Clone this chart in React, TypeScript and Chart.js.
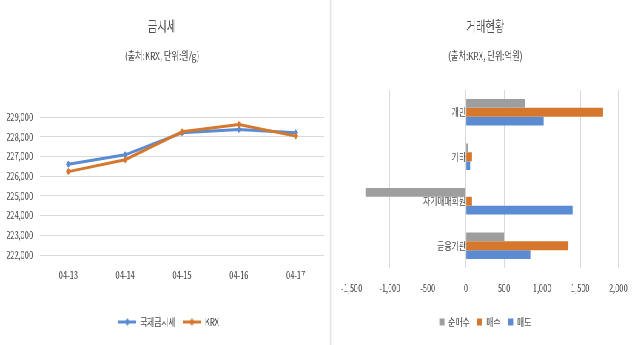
import React, { useEffect, useRef } from 'react';
import { Chart, registerables } from 'chart.js';

Chart.register(...registerables);

// ---- data: gold price (원/g) ----
const dates = ['04-13', '04-14', '04-15', '04-16', '04-17'];
const intlGold = [226600, 227080, 228200, 228370, 228200];
const krxGold = [226230, 226830, 228250, 228620, 228030];
const priceMin = 222000;
const priceMax = 229000;
const priceStep = 1000;

// ---- data: trading (억원) ----
const investors = ['개인', '기타', '자기매매회원', '금융기관'];
const netBuy = [780, 25, -1320, 500];
const buy = [1800, 80, 80, 1345];
const sell = [1020, 55, 1400, 845];
const tradeMin = -1500;
const tradeMax = 2000;
const tradeStep = 500;

const S = 0.74; // horizontal compression of the whole picture
const FONT = '"Noto Sans CJK KR", "Noto Sans", sans-serif';
const TXT = '#4F4F4F';
const BLUE = '#5B8CD3';
const ORANGE = '#D5782E';
const GRAY = '#9E9E9E';
const GRID = '#D9D9D9';
const fmt = (v: any) => Number(v).toLocaleString('en-US');

function lineIcon(color: string) {
  const c = document.createElement('canvas');
  c.width = 24;
  c.height = 9;
  const g = c.getContext('2d')!;
  g.strokeStyle = color;
  g.lineWidth = 3;
  g.beginPath();
  g.moveTo(0, 4.5);
  g.lineTo(24, 4.5);
  g.stroke();
  g.fillStyle = color;
  g.beginPath();
  g.moveTo(12, 0.5);
  g.lineTo(16, 4.5);
  g.lineTo(12, 8.5);
  g.lineTo(8, 4.5);
  g.closePath();
  g.fill();
  return c;
}

const shiftLegend = (dx: number) => ({
  id: 'shiftLegend',
  afterLayout(chart: any) {
    if (chart.legend) {
      chart.legend.left += dx;
      chart.legend.right += dx;
    }
  },
});

export default function App() {
  const leftRef = useRef<HTMLCanvasElement>(null);
  const rightRef = useRef<HTMLCanvasElement>(null);

  useEffect(() => {
    const titleFont = { family: FONT, size: 14, weight: 'normal' as const };
    const subFont = { family: FONT, size: 11, weight: 'normal' as const };
    const tickFont = { family: FONT, size: 10 };
    const legFont = { family: FONT, size: 10.5 };

    const iconBlue = lineIcon(BLUE);
    const iconOrange = lineIcon(ORANGE);

    const left = new Chart(leftRef.current!, {
      type: 'line',
      data: {
        labels: dates,
        datasets: [
          {
            label: '국제금시세',
            data: intlGold,
            borderColor: BLUE,
            backgroundColor: BLUE,
            borderWidth: 3,
            pointStyle: 'rectRot',
            pointRadius: 3.5,
            pointBorderWidth: 0,
            pointBackgroundColor: BLUE,
            tension: 0,
            order: 1,
          },
          {
            label: 'KRX',
            data: krxGold,
            borderColor: ORANGE,
            backgroundColor: ORANGE,
            borderWidth: 3,
            pointStyle: 'rectRot',
            pointRadius: 3.5,
            pointBorderWidth: 0,
            pointBackgroundColor: ORANGE,
            tension: 0,
            order: 0,
          },
        ],
      },
      plugins: [shiftLegend(9)],
      options: {
        responsive: false,
        animation: false,
        layout: { padding: { left: 0, right: 8, top: 0, bottom: 7.75 } },
        plugins: {
          title: {
            display: true,
            text: '금시세',
            color: TXT,
            font: titleFont,
            padding: { top: 17.6, bottom: 0 },
          },
          subtitle: {
            display: true,
            text: '(출처:KRX, 단위:원/g)',
            color: TXT,
            font: subFont,
            padding: { top: 15, bottom: 54.4 },
          },
          legend: {
            position: 'bottom',
            labels: {
              color: TXT,
              font: legFont,
              padding: 10,
              usePointStyle: true,
              pointStyleWidth: 24,
              generateLabels: () => [
                {
                  text: '국제금시세',
                  pointStyle: iconBlue as any,
                  fillStyle: BLUE,
                  strokeStyle: BLUE,
                  lineWidth: 0,
                  hidden: false,
                  datasetIndex: 0,
                  fontColor: TXT,
                },
                {
                  text: 'KRX',
                  pointStyle: iconOrange as any,
                  fillStyle: ORANGE,
                  strokeStyle: ORANGE,
                  lineWidth: 0,
                  hidden: false,
                  datasetIndex: 1,
                  fontColor: TXT,
                },
              ],
            },
          },
          tooltip: { enabled: false },
        },
        scales: {
          x: {
            offset: true,
            grid: { display: false, drawTicks: false },
            border: { display: false },
            ticks: { color: TXT, font: tickFont, padding: 14, maxRotation: 0 },
            afterFit: (s: any) => {
              s.height = 51.75;
            },
          },
          y: {
            min: priceMin,
            max: priceMax,
            grid: { color: GRID, drawTicks: false },
            border: { display: false },
            ticks: { stepSize: priceStep, callback: fmt, color: TXT, font: tickFont, padding: 9.5 },
            afterFit: (s: any) => {
              s.width = 54;
            },
          },
        },
      },
    });

    const right = new Chart(rightRef.current!, {
      type: 'bar',
      data: {
        labels: investors,
        datasets: [
          { label: '순매수', data: netBuy, backgroundColor: GRAY },
          { label: '매수', data: buy, backgroundColor: ORANGE },
          { label: '매도', data: sell, backgroundColor: BLUE },
        ],
      },
      options: {
        indexAxis: 'y',
        responsive: false,
        animation: false,
        layout: { padding: { left: 23, right: 20.4, top: 0, bottom: 7.75 } },
        datasets: { bar: { categoryPercentage: 0.6, barPercentage: 1 } },
        plugins: {
          title: {
            display: true,
            text: '거래현황',
            color: TXT,
            font: titleFont,
            padding: { top: 17.6, bottom: 0 },
          },
          subtitle: {
            display: true,
            text: '(출처:KRX, 단위:억원)',
            color: TXT,
            font: subFont,
            padding: { top: 15, bottom: 27.4 },
          },
          legend: {
            position: 'bottom',
            labels: { color: TXT, font: legFont, padding: 10, boxWidth: 7, boxHeight: 7 },
          },
          tooltip: { enabled: false },
        },
        scales: {
          x: {
            min: tradeMin,
            max: tradeMax,
            grid: { color: GRID, drawTicks: false },
            border: { display: false },
            ticks: { stepSize: tradeStep, callback: fmt, color: TXT, font: tickFont, padding: 14, maxRotation: 0 },
            afterFit: (s: any) => {
              s.height = 38.75;
            },
          },
          y: {
            position: { x: 0 } as any,
            grid: { display: false, drawTicks: false },
            border: { display: false },
            ticks: { color: TXT, font: { family: FONT, size: 10.5 }, padding: 9.5 },
          },
        },
      },
    });

    return () => {
      left.destroy();
      right.destroy();
    };
  }, []);

  return (
    <div
      style={{
        position: 'fixed',
        left: 0,
        top: 0,
        width: 862,
        height: 345,
        background: '#fff',
        transform: `scaleX(${S})`,
        transformOrigin: '0 0',
      }}
    >
      <canvas ref={leftRef} width={446} height={345} style={{ position: 'absolute', left: 0, top: 0 }} />
      <div style={{ position: 'absolute', left: 446, top: 0, width: 1.4, height: 345, background: '#D9D9D9' }} />
      <canvas ref={rightRef} width={415} height={345} style={{ position: 'absolute', left: 447, top: 0 }} />
    </div>
  );
}
